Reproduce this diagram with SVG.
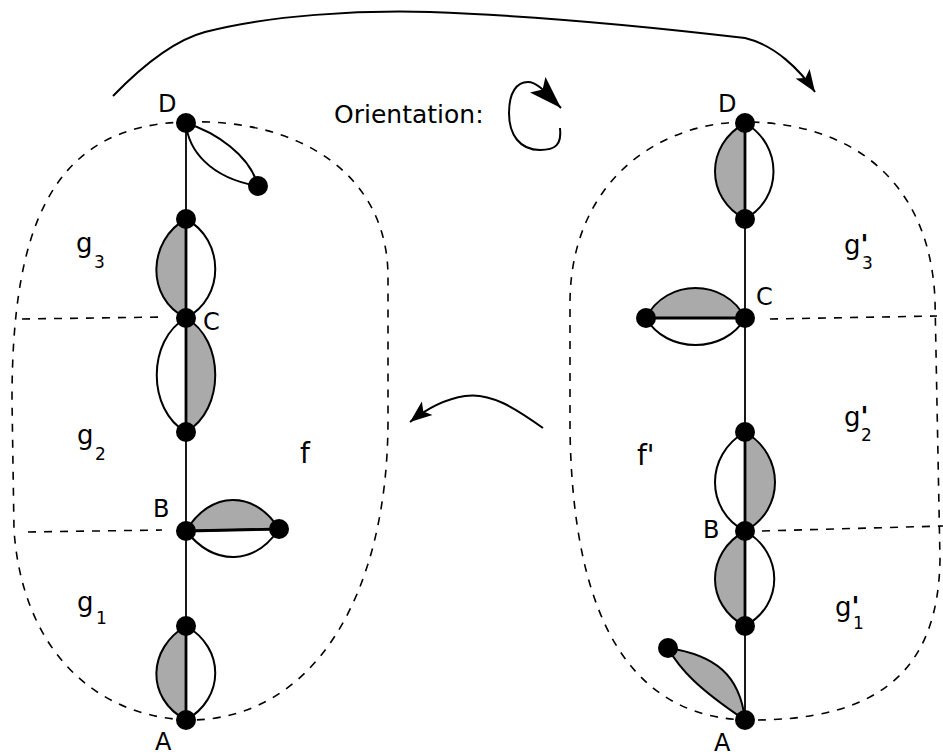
<svg xmlns="http://www.w3.org/2000/svg" width="943" height="756" viewBox="0 0 943 756">
<style>
text{font-family:"DejaVu Sans","Liberation Sans",sans-serif;font-size:24px;fill:#000}
.g{font-size:26px}
.sub{font-size:17px}
.dash{fill:none;stroke:#000;stroke-width:1.6;stroke-dasharray:8,8}
.spine{stroke:#000;stroke-width:1.8;fill:none}
.mid{stroke:#000;stroke-width:2.8;fill:none}
.lobe{stroke:#000;stroke-width:2;fill:none}
.grey{fill:#aaaaaa;stroke:#000;stroke-width:2}
.arr{fill:none;stroke:#000;stroke-width:2}
.node{fill:#000}
</style>
<defs>
<marker id="ah" markerUnits="userSpaceOnUse" markerWidth="24" markerHeight="20" viewBox="0 0 24 20" refX="22" refY="10" orient="auto">
<path d="M0,1.5 L22,10 L0,18.5 L5,10 z" fill="#000"/>
</marker>
<marker id="ah2" markerUnits="userSpaceOnUse" markerWidth="34" markerHeight="24" viewBox="0 0 34 24" refX="33" refY="12" orient="auto">
<path d="M0,1 L33,12 L0,23 L7,12 z" fill="#000"/>
</marker>
</defs>

<g id="outlines">
<path class="dash" d="M186,122 C300,118 388,175 388,277 L388,420 C388,600 310,722 186,720 C90,715 22,645 14,530 L12,400 C12,230 50,125 186,122 Z"/>
<path class="dash" d="M745,122 C660,122 572,180 570,300 L570,430 C572,560 600,715 745,720 C880,722 938,670 940,560 L935,300 C930,180 850,122 745,122 Z"/>
<path class="dash" d="M22,319 L165,317"/>
<path class="dash" d="M28,532 L162,530"/>
<path class="dash" d="M770,319 L937,316"/>
<path class="dash" d="M762,531 L943,526"/>
</g>

<g id="connectors">
<path class="arr" marker-end="url(#ah)" d="M113,96 C145,63 175,40 205,32 C270,15 360,10 430,12 C540,16 660,28 745,38 C775,45 800,70 815,92"/>
<path class="arr" marker-end="url(#ah)" d="M543,428 C515,408 490,392 465,396 C445,399 425,410 410,422"/>
<path class="arr" marker-end="url(#ah2)" d="M560,128 C562,145 555,150 540,150 C520,150 509,135 509,113 C509,92 517,82 528,82 C538,82 548,95 561,108"/>
</g>

<g id="left-graph">
<line class="spine" x1="186" y1="123" x2="186" y2="720"/>
<path class="lobe" d="M186,123 C215,132 250,155 258,186"/>
<path class="lobe" d="M186,123 C188,150 210,178 258,186"/>
<path class="grey" d="M186,219 C148,240 145,298 186,318 Z"/>
<path class="lobe" d="M186,219 C225,240 225,298 186,318"/>
<path class="lobe" d="M186,318 C147,340 147,410 186,432"/>
<path class="grey" d="M186,318 C225,340 225,410 186,432 Z"/>
<path class="grey" d="M186,531 C210,490 255,490 279,529 Z"/>
<path class="lobe" d="M186,531 C215,567 255,565 279,529"/>
<path class="grey" d="M186,626 C148,648 145,698 186,720 Z"/>
<path class="lobe" d="M186,626 C225,648 225,698 186,720"/>
<path class="mid" d="M186,219 L186,318 M186,318 L186,432 M186,531 L279,529 M186,626 L186,720"/>
</g>
<g id="left-nodes">
<circle id="L-D" class="node" cx="186" cy="123" r="10"/>
<circle id="L-D2" class="node" cx="258" cy="186" r="10"/>
<circle id="L-n1" class="node" cx="186" cy="219" r="10"/>
<circle id="L-C" class="node" cx="186" cy="318" r="10"/>
<circle id="L-n2" class="node" cx="186" cy="432" r="10"/>
<circle id="L-B" class="node" cx="186" cy="531" r="10"/>
<circle id="L-B2" class="node" cx="279" cy="529" r="10"/>
<circle id="L-n3" class="node" cx="186" cy="626" r="10"/>
<circle id="L-A" class="node" cx="186" cy="720" r="10"/>
</g>

<g id="right-graph">
<line class="spine" x1="745" y1="123" x2="745" y2="720"/>
<path class="grey" d="M745,123 C705,145 705,198 745,219 Z"/>
<path class="lobe" d="M745,123 C783,145 783,198 745,219"/>
<path class="grey" d="M745,318 C725,278 666,278 646,318 Z"/>
<path class="lobe" d="M745,318 C725,354 666,354 646,318"/>
<path class="lobe" d="M745,432 C705,455 705,510 745,531"/>
<path class="grey" d="M745,432 C785,455 785,510 745,531 Z"/>
<path class="grey" d="M745,531 C705,553 705,605 745,626 Z"/>
<path class="lobe" d="M745,531 C784,553 784,605 745,626"/>
<path class="grey" d="M668,648 C715,655 740,675 745,720 C700,690 680,670 668,648 Z"/>
<path class="mid" d="M745,123 L745,219 M745,318 L646,318 M745,432 L745,531 M745,531 L745,626"/>
</g>
<g id="right-nodes">
<circle id="R-D" class="node" cx="745" cy="123" r="10"/>
<circle id="R-n1" class="node" cx="745" cy="219" r="10"/>
<circle id="R-C" class="node" cx="745" cy="318" r="10"/>
<circle id="R-C2" class="node" cx="646" cy="318" r="10"/>
<circle id="R-n2" class="node" cx="745" cy="432" r="10"/>
<circle id="R-B" class="node" cx="745" cy="531" r="10"/>
<circle id="R-n3" class="node" cx="745" cy="626" r="10"/>
<circle id="R-A" class="node" cx="745" cy="720" r="10"/>
<circle id="R-A2" class="node" cx="668" cy="648" r="10"/>
</g>

<g id="labels">
<text x="334" y="123" style="font-size:25px">Orientation:</text>
<text x="158" y="112">D</text>
<text x="203" y="330">C</text>
<text x="153" y="517">B</text>
<text x="155" y="750">A</text>
<text x="718" y="112">D</text>
<text x="756" y="305">C</text>
<text x="703" y="538">B</text>
<text x="714" y="751">A</text>
<text class="g" x="76" y="252">g<tspan class="sub" x="94" y="268">3</tspan></text>
<text class="g" x="77" y="444">g<tspan class="sub" x="95" y="460">2</tspan></text>
<text class="g" x="77" y="611">g<tspan class="sub" x="96" y="624">1</tspan></text>
<text x="300" y="463" style="font-size:28px">f</text>
<text x="637" y="465" style="font-size:28px">f'</text>
<text class="g" x="844" y="254">g<tspan font-weight="bold">'</tspan><tspan class="sub" x="862" y="269">3</tspan></text>
<text class="g" x="844" y="426">g<tspan font-weight="bold">'</tspan><tspan class="sub" x="861" y="441">2</tspan></text>
<text class="g" x="835" y="616">g<tspan font-weight="bold">'</tspan><tspan class="sub" x="853" y="629">1</tspan></text>
</g>
</svg>
